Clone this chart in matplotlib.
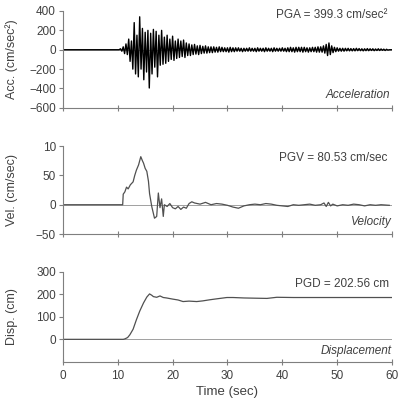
import numpy as np
import matplotlib.pyplot as plt

plt.rcParams['font.family'] = ['Liberation Sans', 'DejaVu Sans']

# --- acceleration record (cm/sec^2), sampled every 0.25 s from 0 to 60 s ---
acc_dt = 0.25
acc_values = (
    [0] * 40 +                       # 0 - 10 s, quiet
    [0, 0, 10, -15,                  # 10 s
     30, -40, 60, -50,               # 11
     110, -120, 90, -200,            # 12
     280, -250, 150, -280,           # 13
     340, -200, 220, -310,           # 14
     180, -230, 200, -395,           # 15
     170, -250, 210, -180,           # 16
     190, -280, 150, -160,           # 17
     200, -150, 130, -140,           # 18
     150, -120, 110, -100,           # 19
     140, -110, 90, -90,             # 20
     110, -80, 90, -70,              # 21
     100, -80, 70, -60,              # 22
     60, -60, 50, -50,               # 23
     55, -45, 40, -50,               # 24
     45, -40, 35, -35,               # 25
     40, -35, 30, -30,               # 26
     30, -30, 30, -25,               # 27
     25, -25, 30, -20,               # 28
     25, -20, 20, -20,               # 29
     20, -25, 25, -20,               # 30
     20, -20, 20, -15,               # 31
     20, -15, 15, -20,               # 32
     15, -15, 15, -15,               # 33
     20, -15, 15, -15,               # 34
     15, -20, 20, -15,               # 35
     15, -15, 15, -20,               # 36
     20, -15, 15, -15,               # 37
     15, -20, 20, -15,               # 38
     15, -15, 15, -15,               # 39
     20, -15, 15, -20,               # 40
     20, -20, 25, -20,               # 41
     20, -25, 25, -20,               # 42
     25, -20, 25, -25,               # 43
     25, -20, 20, -25,               # 44
     20, -20, 25, -20,               # 45
     25, -25, 30, -25,               # 46
     30, -25, 40, -35,               # 47
     55, -60, 70, -50,               # 48
     40, -30, 25, -20,               # 49
     20, -15, 15, -15,               # 50
     15, -15, 15, -12,               # 51
     15, -12, 12, -12,               # 52
     12, -12, 15, -10,               # 53
     12, -10, 10, -12,               # 54
     10, -10, 12, -10,               # 55
     10, -8, 10, -10,                # 56
     8, -8, 10, -8,                  # 57
     8, -6, 6, -8,                   # 58
     5, -4, 0, 0,                    # 59
     0]                              # 60
)

# --- velocity (cm/sec) ---
vel_t = [0, 10.9, 11.0, 11.3, 11.6, 11.9, 12.3, 12.8, 13.1, 13.4, 13.8, 14.2,
         14.5, 14.7, 15.0, 15.3, 15.6, 15.8, 16.2, 16.5, 16.7, 17.1, 17.4,
         17.7, 18.0, 18.3, 18.5, 19.0, 19.5, 20.0, 20.5, 21.0, 21.5, 22.0,
         22.5, 23.0, 23.5, 24.0, 25.0, 26.0, 27.0, 28.0, 29.0, 30.0, 31.0,
         32.0, 33.0, 34.0, 35.0, 36.0, 37.0, 38.0, 39.0, 40.0, 41.0, 42.0,
         43.0, 44.0, 45.0, 46.0, 47.0, 47.6, 48.0, 48.4, 48.8, 49.2, 50.0,
         51.0, 52.0, 53.0, 54.0, 55.0, 56.0, 57.0, 58.0, 59.5]
vel_v = [0, 0, 18, 22, 30, 27, 34, 39, 50, 59, 68, 82,
         75, 71, 62, 57, 40, 19, -3, -15, -23, -20, 20,
         -5, 10, -20, 0, -3, 2, -5, -7, -3, -8, -4,
         -6, 2, 5, 3, 1, 4, 0, 2, 1, -1, -4,
         -6, -2, 0, 1, 0, 2, 1, -1, -2, -3, 0,
         -1, 0, 1, -1, 0, 3, -3, 4, -2, 1, -2,
         0, -1, 1, 0, -2, 0, -1, 0, -1]

# --- displacement (cm) ---
disp_t = [0, 11.0, 11.3, 11.8, 12.2, 12.8, 13.4, 14.0, 14.7, 15.3, 15.8,
          16.2, 16.5, 17.1, 17.7, 18.3, 18.9, 20.0, 21.0, 21.9, 23.0, 24.4,
          25.5, 26.8, 28.0, 29.9, 31.0, 33.0, 35.0, 37.2, 39.0, 42.0, 45.0,
          50.0, 55.0, 60.0]
disp_v = [0, 0, 2, 8, 20, 45, 87, 125, 162, 188, 202,
          196, 190, 187, 193, 186, 184, 179, 175, 168, 170, 168,
          171, 176, 180, 186, 186, 184, 183, 182, 187, 186, 186,
          186, 186, 186]

x_ticks = [0, 10, 20, 30, 40, 50, 60]

txt = '#404040'
spine = '#7f7f7f'

fig = plt.figure(figsize=(3.98, 4.07), dpi=100)
ax1 = fig.add_axes([0.158, 0.735, 0.827, 0.238])
ax2 = fig.add_axes([0.158, 0.425, 0.827, 0.216])
ax3 = fig.add_axes([0.158, 0.111, 0.827, 0.221])

acc_t = np.arange(len(acc_values)) * acc_dt
ax1.plot(acc_t, acc_values, color='black', lw=1.0)
ax2.plot(vel_t, vel_v, color='#505050', lw=0.9)
ax3.plot(disp_t, disp_v, color='#505050', lw=0.9)

ax1.set_ylim(-600, 400)
ax1.set_yticks([-600, -400, -200, 0, 200, 400])
ax2.set_ylim(-50, 100)
ax2.set_yticks([-50, 0, 50, 100])
ax2.set_yticklabels(['\u221250', '0', '50', '10'])
ax3.set_ylim(-100, 300)
ax3.set_yticks([0, 100, 200, 300])

for ax in (ax1, ax2, ax3):
    ax.set_xlim(0, 60)
    ax.set_xticks(x_ticks)
    for s in ('top', 'right'):
        ax.spines[s].set_visible(False)
    for s in ('left', 'bottom'):
        ax.spines[s].set_color(spine)
        ax.spines[s].set_linewidth(0.8)
    ax.tick_params(axis='x', direction='inout', length=4, color=spine,
                   labelsize=8.5, labelcolor=txt, pad=4)
    ax.tick_params(axis='y', direction='out', length=3, color=spine,
                   labelsize=8.5, labelcolor=txt, pad=2)
    # zero reference line
    ax.axhline(0, color='#909090', lw=0.6, zorder=0)

ax1.tick_params(axis='x', labelbottom=False)
ax2.tick_params(axis='x', labelbottom=False)

ax1.set_ylabel('Acc. (cm/sec²)', fontsize=9, color=txt)
ax2.set_ylabel('Vel. (cm/sec)', fontsize=9, color=txt)
ax3.set_ylabel('Disp. (cm)', fontsize=9, color=txt)
for ax in (ax1, ax2, ax3):
    ax.yaxis.set_label_coords(-0.135, 0.5)

ax3.set_xlabel('Time (sec)', fontsize=9.5, color=txt, labelpad=3)

ax1.text(0.985, 0.96, 'PGA = 399.3 cm/sec²', transform=ax1.transAxes,
         ha='right', va='center', fontsize=8.5, color=txt)
ax1.text(0.995, 0.134, 'Acceleration', transform=ax1.transAxes,
         ha='right', va='center', fontsize=8.5, color=txt, style='italic')
ax2.text(0.985, 0.867, 'PGV = 80.53 cm/sec', transform=ax2.transAxes,
         ha='right', va='center', fontsize=8.5, color=txt)
ax2.text(0.998, 0.133, 'Velocity', transform=ax2.transAxes,
         ha='right', va='center', fontsize=8.5, color=txt, style='italic')
ax3.text(0.99, 0.867, 'PGD = 202.56 cm', transform=ax3.transAxes,
         ha='right', va='center', fontsize=8.5, color=txt)
ax3.text(0.998, 0.122, 'Displacement', transform=ax3.transAxes,
         ha='right', va='center', fontsize=8.5, color=txt, style='italic')

fig.savefig('out.png', dpi=100)
